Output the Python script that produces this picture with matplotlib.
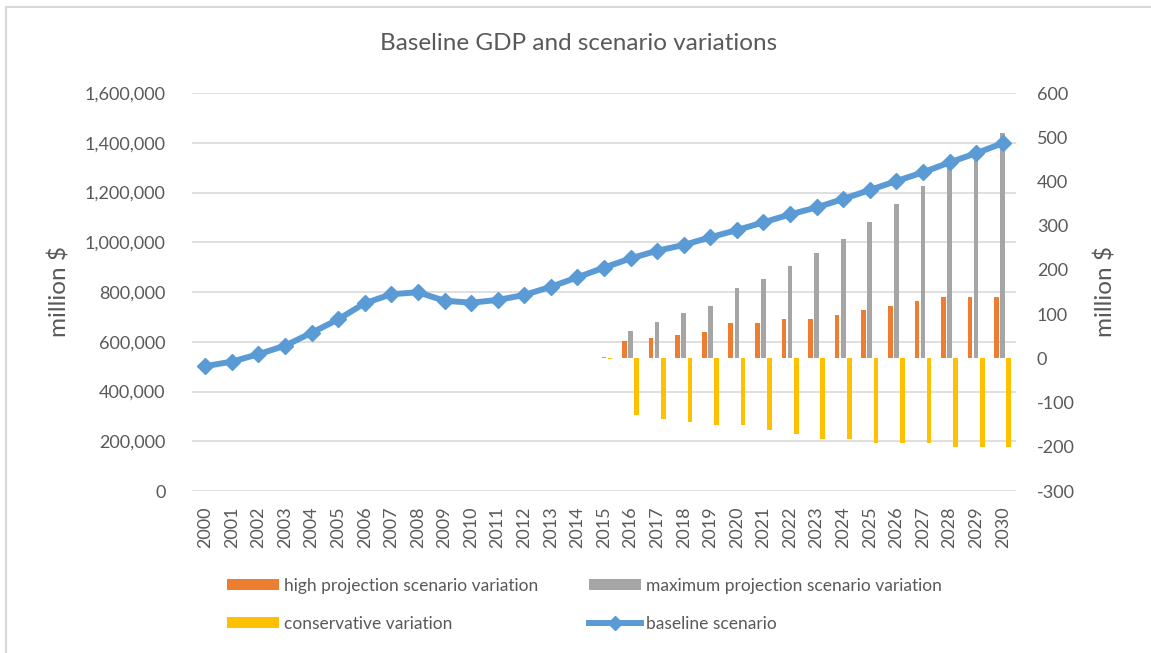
import matplotlib
matplotlib.use("Agg")
import matplotlib.pyplot as plt
from matplotlib.patches import Rectangle
from matplotlib.lines import Line2D
from matplotlib.ticker import FuncFormatter

plt.rcParams['font.family'] = ['Lato', 'DejaVu Sans']
plt.rcParams['axes.unicode_minus'] = False

years = list(range(2000, 2031))
baseline = [502000, 520000, 550000, 584000, 636000, 690000, 755000, 791000, 799000,
            765000, 757000, 768000, 788000, 821000, 859000, 898000, 935000, 966000,
            989000, 1020000, 1049000, 1080000, 1112000, 1140000, 1174000, 1210000,
            1246000, 1281000, 1321000, 1358000, 1398000]

bar_years = list(range(2015, 2031))
high = [1, 39, 46, 53, 59, 79, 79, 89, 89, 99, 109, 119, 129, 139, 139, 139]
maximum = [3, 62, 82, 103, 119, 158, 179, 209, 238, 269, 308, 348, 389, 430, 470, 510]
conservative = [-2, -128, -137, -144, -151, -151, -161, -171, -182, -182, -192, -192,
                -192, -201, -201, -201]

TXT = '#595959'
W, H = 1151, 653
fig = plt.figure(figsize=(W / 100, H / 100), dpi=100)

# chart border
fig.add_artist(Rectangle((6 / W, -0.1), 1.2, (H - 7) / H + 0.1, transform=fig.transFigure,
                         fill=False, edgecolor='#D9D9D9', linewidth=1.5))

rect = [192 / W, 1 - 491 / H, (1016 - 192) / W, (491 - 93) / H]
ax = fig.add_axes(rect)
ax_bar = ax.twinx()
ax_line = ax.twinx()

# left axis (grid)
ax.set_ylim(0, 1600000)
ax.set_yticks(range(0, 1600001, 200000))
ax.yaxis.set_major_formatter(FuncFormatter(lambda v, p: f'{v:,.0f}'))
ax.grid(axis='y', color='#D9D9D9', linewidth=1.2)
ax.set_xlim(1999.5, 2030.5)
ax.set_xticks(years)
ax.set_xticklabels([str(y) for y in years], rotation=90)
ax.tick_params(axis='y', length=0, pad=19, labelsize=13, labelcolor=TXT)
ax.tick_params(axis='x', length=0, pad=11, labelsize=13, labelcolor=TXT)
ax.set_ylabel('million $', fontsize=17.5, color=TXT)
ax.yaxis.set_label_coords(-0.147, 0.5)

# right axis (bars)
w = 0.175
off = 0.23
b1 = ax_bar.bar([y - off for y in bar_years], high, width=w, color='#ED7D31')
b2 = ax_bar.bar(bar_years, maximum, width=w, color='#A5A5A5')
b3 = ax_bar.bar([y + off for y in bar_years], conservative, width=w, color='#FFC000')
ax_bar.set_ylim(-300, 600)
ax_bar.set_yticks(range(-300, 601, 100))
ax_bar.tick_params(axis='y', length=0, pad=15, labelsize=13, labelcolor=TXT)
ax_bar.set_ylabel('million $', fontsize=17.5, color=TXT, rotation=90)
ax_bar.yaxis.set_label_coords(1.095, 0.5)

# line on top
ax_line.plot(years, baseline, color='#5B9BD5', linewidth=4.3, marker='D', markersize=8.5)
ax_line.set_ylim(ax.get_ylim())
ax_line.yaxis.set_visible(False)

for a in (ax, ax_bar, ax_line):
    a.set_xlim(1999.5, 2030.5)
    for s in a.spines.values():
        s.set_visible(False)

fig.text(579 / W, 1 - 44 / H, 'Baseline GDP and scenario variations', ha='center', va='center',
         fontsize=17.5, color=TXT)

line_h = Line2D([], [], color='#5B9BD5', linewidth=4.3, marker='D', markersize=7)
handles = [b1, b3, b2, line_h]
labels = ['high projection scenario variation', 'conservative variation',
          'maximum projection scenario variation', 'baseline scenario']
fig.legend(handles, labels, ncol=2, loc='upper left', bbox_to_anchor=(227 / W, 1 - 578 / H),
           frameon=False, fontsize=12.5, handlelength=3.0, handleheight=0.58, handletextpad=0.29,
           columnspacing=2.9, labelspacing=1.24, borderpad=0, borderaxespad=0, labelcolor=TXT)

fig.savefig('out.png', dpi=100)
